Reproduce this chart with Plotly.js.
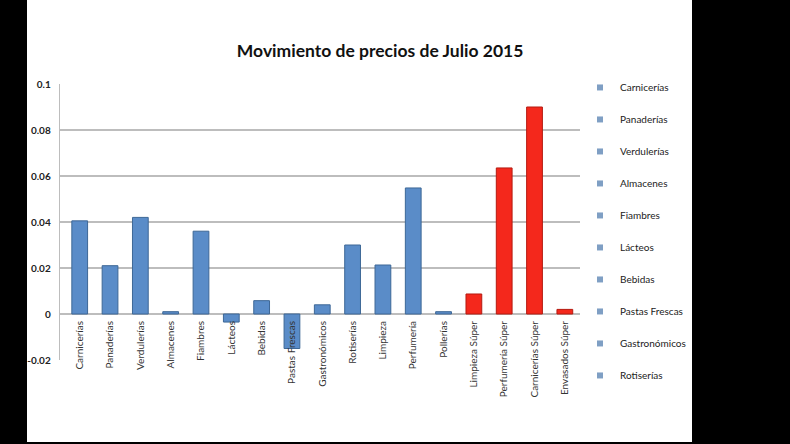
<!DOCTYPE html>
<html><head><meta charset="utf-8">
<script src="https://cdn.plot.ly/plotly-3.0.1.min.js"></script>
<style>
html,body{margin:0;padding:0;background:#000;width:790px;height:444px;overflow:hidden}
#chart{position:absolute;left:27px;top:0;width:665px;height:442px;background:#fff}
</style></head><body><div id="chart"></div>
<script>
const categories = ['Carnicerías','Panaderías','Verdulerías','Almacenes','Fiambres','Lácteos','Bebidas','Pastas Frescas','Gastronómicos','Rotiserías','Limpieza','Perfumería','Pollerías','Limpieza Súper','Perfumería Súper','Carnicerías Súper','Envasados Súper'];
const values = [0.0405, 0.021, 0.042, 0.001, 0.036, -0.0035, 0.0058, -0.015, 0.004, 0.030, 0.0213, 0.0548, 0.001, 0.0087, 0.0635, 0.090, 0.002];
const isSuper = [false,false,false,false,false,false,false,false,false,false,false,false,false,true,true,true,true];
const legendLabels = ['Carnicerías','Panaderías','Verdulerías','Almacenes','Fiambres','Lácteos','Bebidas','Pastas Frescas','Gastronómicos','Rotiserías'];
const yTicks = [-0.02, 0, 0.02, 0.04, 0.06, 0.08, 0.1];
const yTickText = ['-0.02','0','0.02','0.04','0.06','0.08','0.1'];

const BLUE = '#5a8cc8', BLUE_EDGE = '#3d6796';
const RED = '#f4281c', RED_EDGE = '#b51a10';

const traces = [{
  type: 'bar', x: categories, y: values, showlegend: false, hoverinfo: 'x+y',
  marker: {color: isSuper.map(s => s ? RED : BLUE),
           line: {color: isSuper.map(s => s ? RED_EDGE : BLUE_EDGE), width: 1}}
}];
legendLabels.forEach((name, i) => traces.push({
  type: 'scatter', mode: 'markers', x: [null], y: [null], name: name, legendgroup: 'g' + i,
  marker: {color: '#7f9fc4', symbol: 'square', size: 6}, showlegend: true
}));

const layout = {
  width: 665, height: 442,
  margin: {l: 33, r: 112, t: 84, b: 82, autoexpand: false},
  paper_bgcolor: '#fff', plot_bgcolor: '#fff',
  font: {family: 'Lato, "Open Sans", sans-serif', color: '#333'},
  title: {text: '<b>Movimiento de precios de Julio 2015</b>',
          font: {size: 17.5, color: '#111', family: 'Lato, "Open Sans", sans-serif'},
          xref: 'container', x: 0.531, xanchor: 'center',
          yref: 'container', y: 0.885, yanchor: 'middle'},
  bargap: 0.48,
  showlegend: true,
  legend: {x: 1.0, xanchor: 'left', y: 1.04, yanchor: 'top',
           traceorder: 'grouped', tracegroupgap: 13, maxheight: 420,
           font: {size: 10, color: '#222'}, itemwidth: 30, bgcolor: 'rgba(0,0,0,0)'},
  xaxis: {type: 'category', range: [-0.65, 16.5], anchor: 'free', position: 0.1667,
          showline: false, showgrid: false, ticks: '', tickangle: -90,
          ticklabelstandoff: 4, tickfont: {size: 10, color: '#333'}, fixedrange: true},
  yaxis: {range: [-0.02, 0.1], tickvals: yTicks, ticktext: yTickText,
          showgrid: true, gridcolor: '#bdbdbd', gridwidth: 1.3, zeroline: false,
          showline: true, linecolor: '#bdbdbd', linewidth: 1.3,
          ticks: '', ticklabelstandoff: 6,
          tickfont: {size: 10, color: '#222', weight: 'bold'}, fixedrange: true}
};
Plotly.newPlot('chart', traces, layout, {displayModeBar: false, staticPlot: true});
</script></body></html>
